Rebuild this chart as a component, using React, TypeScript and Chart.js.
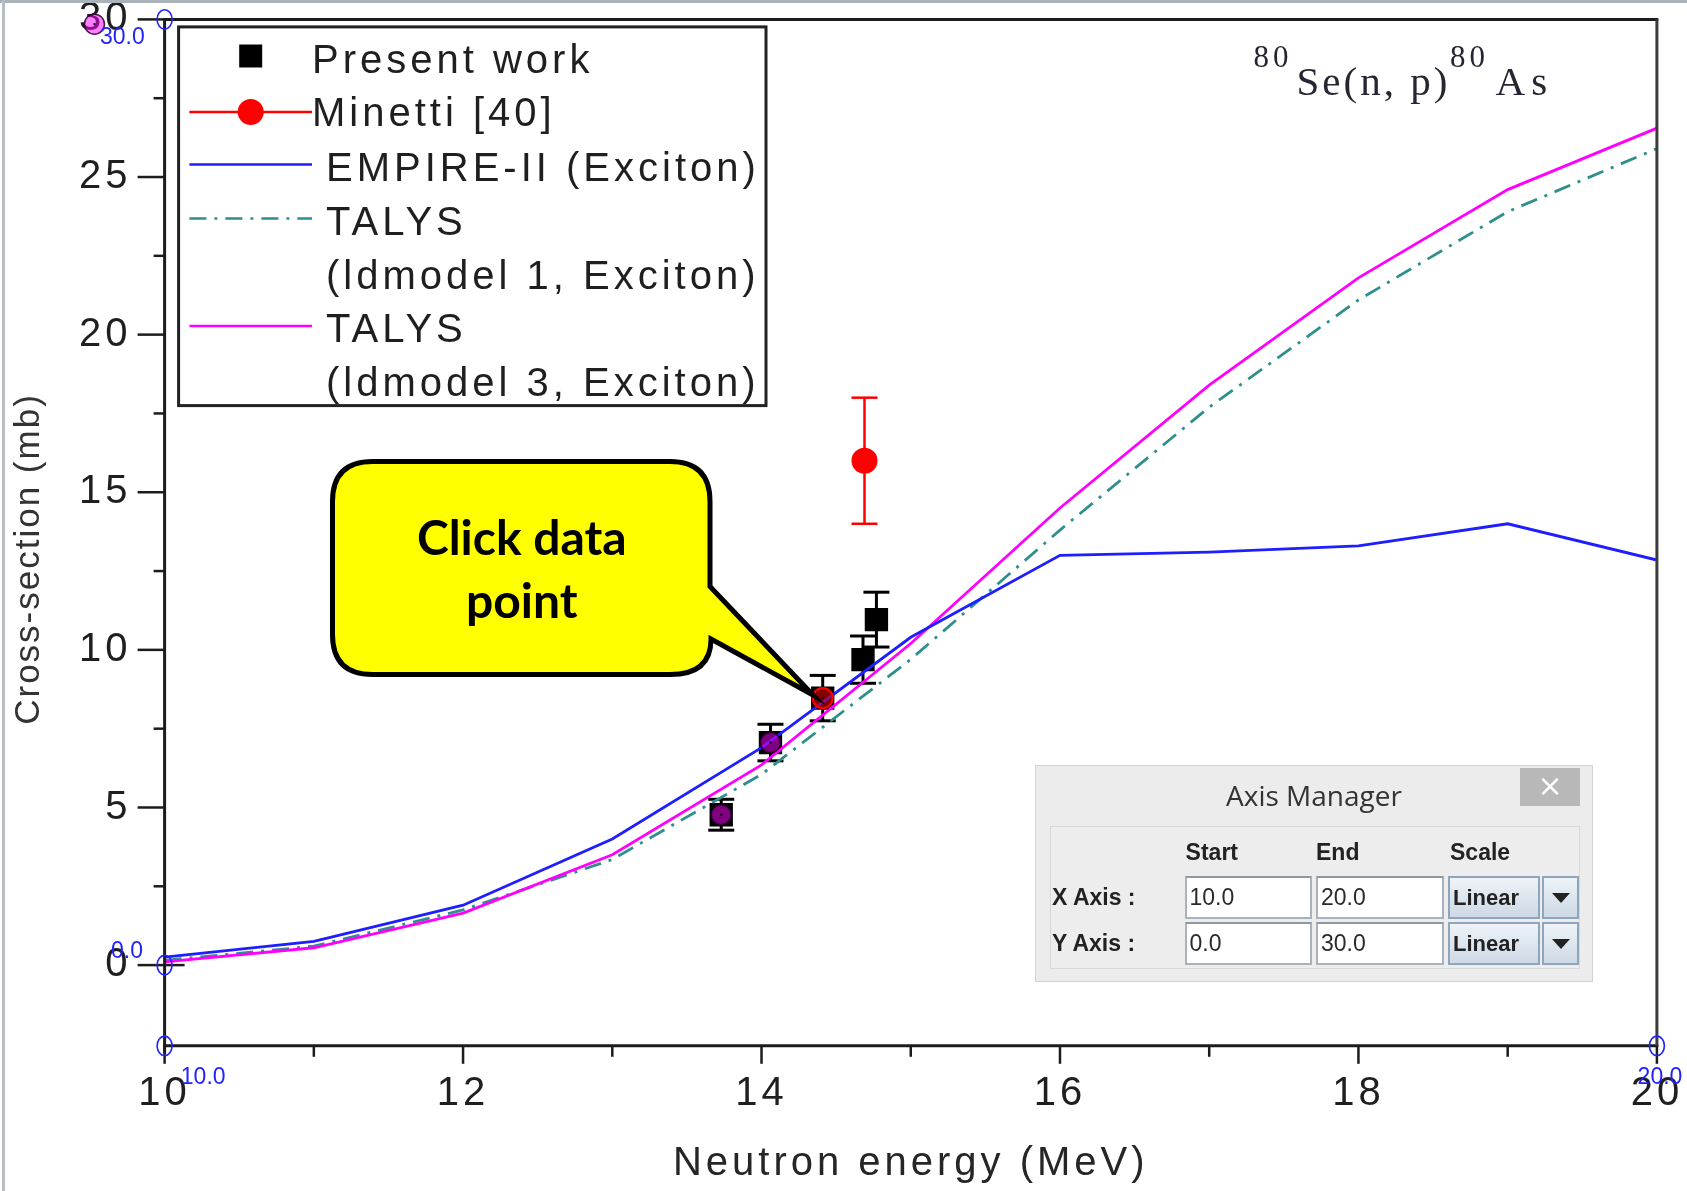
import React, { useEffect, useRef } from 'react';
import { Chart, registerables } from 'chart.js';

Chart.register(...registerables);

const W = 1687;
const H = 1191;

// ---------------- data ----------------
const modelEnergy = [10, 11, 12, 13, 14, 15, 16, 17, 18, 19, 20];
const empireExciton = [0.25, 0.75, 1.9, 4.0, 6.9, 10.4, 13.0, 13.1, 13.3, 14.0, 12.85];
const talysLd1Exciton = [0.15, 0.6, 1.75, 3.35, 6.05, 9.7, 13.8, 17.7, 21.1, 23.9, 25.9];
const talysLd3Exciton = [0.1, 0.55, 1.65, 3.5, 6.35, 10.2, 14.5, 18.4, 21.8, 24.6, 26.55];

const presentEnergy = [13.73, 14.06, 14.41, 14.68, 14.77];
const presentXs = [4.77, 7.06, 8.47, 9.69, 10.96];
const presentErr = [0.49, 0.58, 0.72, 0.75, 0.87];

const minettiEnergy = [14.69];
const minettiXs = [16.0];
const minettiErr = [2.0];

// points clicked in the digitizer (last one is a stray click near the axis label)
const clickedEnergy = [13.73, 14.06, 14.41, 9.53];
const clickedXs = [4.77, 7.06, 8.47, 29.85];
const clickedSelected = [false, false, true, false];

const X_MIN = 10;
const X_MAX = 20;
const Y_MIN = -2.56;
const Y_MAX = 30;
const xMajorTicks = [10, 12, 14, 16, 18, 20];
const xMinorTicks = [11, 13, 15, 17, 19];
const yMajorTicks = [0, 5, 10, 15, 20, 25, 30];
const yMinorTicks = [2.5, 7.5, 12.5, 17.5, 22.5, 27.5];

const calibEnergy = [10, 10, 10, 20];
const calibXs = [30, 0, Y_MIN, Y_MIN];
const calibLabels = ['30.0', '0.0', '10.0', '20.0'];

const xTitle = 'Neutron energy (MeV)';
const yTitle = 'Cross-section (mb)';
const legendTexts = [
  ['Present work'],
  ['Minetti [40]'],
  ['EMPIRE-II (Exciton)'],
  ['TALYS', '(ldmodel 1, Exciton)'],
  ['TALYS', '(ldmodel 3, Exciton)'],
];
const reactionParts = ['80', 'Se(n, p)', '80', 'As'];

const axisHeaders = ['Start', 'End', 'Scale'];
const axisRows = [
  { label: 'X Axis :', start: '10.0', end: '20.0', scale: 'Linear' },
  { label: 'Y Axis :', start: '0.0', end: '30.0', scale: 'Linear' },
];
const calloutLines = ['Click data', 'point'];

// ---------------- styling / layout ----------------
const AREA = { left: 164.6, top: 19.4, right: 1656.9, bottom: 1045.8 };
const SANS = '"Liberation Sans", Arial, Helvetica, sans-serif';
const SERIF = '"Liberation Serif", "Times New Roman", serif';
const C_BLUE = '#1e1eff';
const C_MAG = '#ff00ff';
const C_TEAL = '#2f8f8c';
const C_RED = '#ff0000';
const TEAL_DASH = [17, 8, 3, 8];
const CLICK_FILL = 'rgba(255,0,255,0.5)';
const CLICK_FILL_SEL = 'rgba(255,0,0,0.5)';
const CLICK_EDGE = 'rgba(40,0,40,0.85)';
const TEXT_DARK = '#1f1f1f';

const calibLabelOffset = [
  [-64.6, 24.6],
  [-53.6, -7.5],
  [16.2, 37.7],
  [-19.3, 37.7],
];

function line(ctx: any, x1: number, y1: number, x2: number, y2: number) {
  ctx.beginPath();
  ctx.moveTo(x1, y1);
  ctx.lineTo(x2, y2);
  ctx.stroke();
}

const overlayPlugin = {
  id: 'overlay',
  beforeDraw(chart: any) {
    chart.ctx.letterSpacing = '4px';
  },
  beforeDatasetsDraw(chart: any) {
    const ctx = chart.ctx;
    const xs = chart.scales.x;
    const ys = chart.scales.y;
    ctx.save();
    ctx.lineCap = 'butt';
    ctx.strokeStyle = '#000';
    ctx.lineWidth = 3;
    presentEnergy.forEach((e, i) => {
      const px = xs.getPixelForValue(e);
      const t = ys.getPixelForValue(presentXs[i] + presentErr[i]);
      const b = ys.getPixelForValue(presentXs[i] - presentErr[i]);
      line(ctx, px, t, px, b);
      line(ctx, px - 13, t, px + 13, t);
      line(ctx, px - 13, b, px + 13, b);
    });
    ctx.strokeStyle = C_RED;
    ctx.lineWidth = 2.5;
    minettiEnergy.forEach((e, i) => {
      const px = xs.getPixelForValue(e);
      const t = ys.getPixelForValue(minettiXs[i] + minettiErr[i]);
      const b = ys.getPixelForValue(minettiXs[i] - minettiErr[i]);
      line(ctx, px, t, px, b);
      line(ctx, px - 13, t, px + 13, t);
      line(ctx, px - 13, b, px + 13, b);
    });
    ctx.restore();
  },
  afterDatasetsDraw(chart: any) {
    const ctx = chart.ctx;
    const xs = chart.scales.x;
    const ys = chart.scales.y;
    const a = chart.chartArea;
    ctx.save();
    clickedEnergy.forEach((e, i) => {
      const px = xs.getPixelForValue(e);
      const py = ys.getPixelForValue(clickedXs[i]);
      const outside = px < a.left || px > a.right || py < a.top || py > a.bottom;
      if (outside) {
        // the library's point element is culled outside the plot area, so mark it here
        ctx.beginPath();
        ctx.arc(px, py, 10, 0, Math.PI * 2);
        ctx.fillStyle = clickedSelected[i] ? CLICK_FILL_SEL : CLICK_FILL;
        ctx.fill();
        ctx.lineWidth = 1.5;
        ctx.strokeStyle = clickedSelected[i] ? C_RED : CLICK_EDGE;
        ctx.stroke();
      }
      ctx.fillStyle = '#1a001a';
      ctx.fillRect(px - 1, py - 1, 2, 2);
    });
    ctx.restore();
  },
  afterDraw(chart: any) {
    const ctx = chart.ctx;
    const xs = chart.scales.x;
    const ys = chart.scales.y;
    const { left: L, right: R, top: T, bottom: B } = chart.chartArea;
    ctx.save();
    ctx.letterSpacing = '0px';
    ctx.lineCap = 'butt';

    // frame
    ctx.strokeStyle = '#1c1c1c';
    ctx.lineWidth = 3;
    line(ctx, L, T - 1.5, L, B + 8);
    line(ctx, L - 1.5, B, R + 1.5, B);
    line(ctx, L - 1.5, T, R + 1.5, T);
    ctx.strokeStyle = '#3c3c3c';
    line(ctx, R, T, R, B);

    // ticks
    ctx.strokeStyle = '#1c1c1c';
    ctx.lineWidth = 2.5;
    yMajorTicks.forEach((v) => {
      const y = ys.getPixelForValue(v);
      line(ctx, L - 27, y, L, y);
    });
    yMinorTicks.forEach((v) => {
      const y = ys.getPixelForValue(v);
      line(ctx, L - 11, y, L, y);
    });
    const y0 = ys.getPixelForValue(0);
    line(ctx, L, y0, L + 20, y0);
    xMajorTicks.forEach((v) => {
      const x = xs.getPixelForValue(v);
      line(ctx, x, B, x, B + 18);
    });
    xMinorTicks.forEach((v) => {
      const x = xs.getPixelForValue(v);
      line(ctx, x, B, x, B + 11);
    });

    // y title
    ctx.save();
    ctx.translate(29, 559);
    ctx.rotate(-Math.PI / 2);
    ctx.font = `35px ${SANS}`;
    ctx.letterSpacing = '2px';
    ctx.fillStyle = '#333';
    ctx.textAlign = 'center';
    ctx.textBaseline = 'middle';
    ctx.fillText(yTitle, 0, 0);
    ctx.restore();

    // legend
    const ds = chart.data.datasets;
    ctx.strokeStyle = '#222';
    ctx.lineWidth = 3;
    ctx.strokeRect(178.6, 26.9, 587.4, 378.7);
    const symL = 189.4;
    const symR = 312;
    const symC = 250.7;
    ctx.fillStyle = ds[5].pointBackgroundColor;
    ctx.fillRect(symC - 11.5, 56 - 11.5, 23, 23);
    ctx.strokeStyle = ds[1].pointBackgroundColor;
    ctx.lineWidth = 2.5;
    line(ctx, symL, 112, symR, 112);
    ctx.fillStyle = ds[1].pointBackgroundColor;
    ctx.beginPath();
    ctx.arc(symC, 112, 13, 0, Math.PI * 2);
    ctx.fill();
    ctx.strokeStyle = ds[2].borderColor;
    line(ctx, symL, 164.6, symR, 164.6);
    ctx.strokeStyle = ds[4].borderColor;
    ctx.setLineDash(TEAL_DASH);
    line(ctx, symL, 218.4, symR, 218.4);
    ctx.setLineDash([]);
    ctx.strokeStyle = ds[3].borderColor;
    line(ctx, symL, 326, symR, 326);

    ctx.font = `40px ${SANS}`;
    ctx.letterSpacing = '4px';
    ctx.fillStyle = TEXT_DARK;
    ctx.textAlign = 'left';
    ctx.textBaseline = 'middle';
    const textPos = [
      [312, [62]],
      [312, [115]],
      [326, [170]],
      [326, [223.5, 277.5]],
      [326, [331, 385]],
    ] as any;
    legendTexts.forEach((lines, i) => {
      lines.forEach((t, j) => ctx.fillText(t, textPos[i][0], textPos[i][1][j]));
    });

    // reaction label
    ctx.fillStyle = '#262633';
    ctx.textBaseline = 'alphabetic';
    ctx.font = `31px ${SERIF}`;
    ctx.letterSpacing = '4px';
    ctx.fillText(reactionParts[0], 1253.5, 67);
    ctx.font = `41px ${SERIF}`;
    ctx.letterSpacing = '3px';
    ctx.fillText(reactionParts[1], 1296.5, 94.7);
    ctx.font = `31px ${SERIF}`;
    ctx.letterSpacing = '4px';
    ctx.fillText(reactionParts[2], 1450, 67);
    ctx.font = `41px ${SERIF}`;
    ctx.letterSpacing = '6px';
    ctx.fillText(reactionParts[3], 1495.6, 94.7);

    // calibration markers
    ctx.letterSpacing = '0px';
    ctx.strokeStyle = '#2222ff';
    ctx.fillStyle = '#2222ff';
    ctx.lineWidth = 1.6;
    ctx.font = `23px ${SANS}`;
    ctx.textAlign = 'left';
    calibEnergy.forEach((e, i) => {
      const px = xs.getPixelForValue(e);
      const py = ys.getPixelForValue(calibXs[i]);
      ctx.beginPath();
      ctx.ellipse(px, py, 7.5, 9.7, 0, 0, Math.PI * 2);
      ctx.stroke();
      ctx.fillText(calibLabels[i], px + calibLabelOffset[i][0], py + calibLabelOffset[i][1]);
    });
    ctx.restore();
  },
};

const datasets: any[] = [
  {
    label: 'clicked',
    data: clickedEnergy.map((x, i) => ({ x, y: clickedXs[i] })),
    showLine: false,
    clip: false,
    pointRadius: 10,
    pointBackgroundColor: clickedSelected.map((s) => (s ? CLICK_FILL_SEL : CLICK_FILL)),
    pointBorderColor: clickedSelected.map((s) => (s ? C_RED : CLICK_EDGE)),
    pointBorderWidth: clickedSelected.map((s) => (s ? 2.2 : 1.5)),
  },
  {
    label: 'Minetti [40]',
    data: minettiEnergy.map((x, i) => ({ x, y: minettiXs[i] })),
    showLine: false,
    pointRadius: 13,
    pointBackgroundColor: C_RED,
    pointBorderColor: C_RED,
    pointBorderWidth: 0,
  },
  {
    label: 'EMPIRE-II (Exciton)',
    data: modelEnergy.map((x, i) => ({ x, y: empireExciton[i] })),
    showLine: true,
    borderColor: C_BLUE,
    borderWidth: 2.8,
    pointRadius: 0,
    tension: 0,
  },
  {
    label: 'TALYS (ldmodel 3, Exciton)',
    data: modelEnergy.map((x, i) => ({ x, y: talysLd3Exciton[i] })),
    showLine: true,
    borderColor: C_MAG,
    borderWidth: 2.8,
    pointRadius: 0,
    tension: 0,
  },
  {
    label: 'TALYS (ldmodel 1, Exciton)',
    data: modelEnergy.map((x, i) => ({ x, y: talysLd1Exciton[i] })),
    showLine: true,
    borderColor: C_TEAL,
    borderDash: TEAL_DASH,
    borderWidth: 2.8,
    pointRadius: 0,
    tension: 0,
  },
  {
    label: 'Present work',
    data: presentEnergy.map((x, i) => ({ x, y: presentXs[i] })),
    showLine: false,
    pointStyle: 'rect',
    pointRadius: 16.5,
    pointBackgroundColor: '#000',
    pointBorderColor: '#000',
    pointBorderWidth: 0,
  },
];

export default function App() {
  const ref = useRef<HTMLCanvasElement>(null);

  useEffect(() => {
    if (!ref.current) return;
    Chart.defaults.font.family = SANS;
    const chart = new Chart(ref.current, {
      type: 'scatter',
      data: { datasets },
      options: {
        responsive: false,
        animation: false,
        devicePixelRatio: 1,
        events: [],
        layout: { padding: { left: 0, top: AREA.top, right: W - AREA.right, bottom: 0 } },
        plugins: { legend: { display: false }, tooltip: { enabled: false } },
        scales: {
          x: {
            type: 'linear',
            min: X_MIN,
            max: X_MAX,
            afterBuildTicks: (s: any) => {
              s.ticks = xMajorTicks.map((v) => ({ value: v }));
            },
            afterFit: (s: any) => {
              s.height = H - AREA.bottom;
              s.paddingLeft = 0;
              s.paddingRight = 0;
            },
            grid: { display: false, drawTicks: false },
            border: { display: false },
            ticks: {
              padding: 24,
              color: TEXT_DARK,
              font: { size: 40, family: SANS },
              maxRotation: 0,
              autoSkip: false,
              callback: (v: any) => String(v),
            },
            title: {
              display: true,
              text: xTitle,
              color: '#262626',
              font: { size: 40, family: SANS },
              padding: { top: 0, bottom: 3 },
            },
          },
          y: {
            type: 'linear',
            min: Y_MIN,
            max: Y_MAX,
            afterBuildTicks: (s: any) => {
              s.ticks = yMajorTicks.map((v) => ({ value: v }));
            },
            afterFit: (s: any) => {
              s.width = AREA.left;
              s.paddingTop = 0;
              s.paddingBottom = 0;
            },
            grid: { display: false, drawTicks: false },
            border: { display: false },
            ticks: {
              padding: 33,
              color: TEXT_DARK,
              font: { size: 40, family: SANS },
              autoSkip: false,
              callback: (v: any) => String(v),
            },
            title: { display: false },
          },
        },
      } as any,
      plugins: [overlayPlugin as any],
    });
    return () => chart.destroy();
  }, []);

  const cL = 332.5, cT = 461.6, cR = 710, cB = 674.6, cr = 40;
  const calloutPath =
    `M ${cL + cr} ${cT} H ${cR - cr} Q ${cR} ${cT} ${cR} ${cT + cr} V 586.5 ` +
    `L 813 695 L 711 639 C 711 662 698 ${cB} ${cR - cr} ${cB} ` +
    `H ${cL + cr} Q ${cL} ${cB} ${cL} ${cB - cr} V ${cT + cr} Q ${cL} ${cT} ${cL + cr} ${cT} Z`;

  const dlgFont = SANS;
  const fieldStyle = (left: number, top: number, width: number): React.CSSProperties => ({
    position: 'absolute',
    left,
    top,
    width,
    height: 43,
    boxSizing: 'border-box',
    background: '#fff',
    border: '2px solid #a9b3bd',
    borderTopColor: '#8d98a3',
    fontSize: 23,
    lineHeight: '39px',
    paddingLeft: 3,
    color: '#2a2a2a',
    fontFamily: dlgFont,
  });
  const comboStyle = (left: number, top: number, width: number): React.CSSProperties => ({
    position: 'absolute',
    left,
    top,
    width,
    height: 43,
    boxSizing: 'border-box',
    background: 'linear-gradient(#eef3f8, #cdd9e5)',
    border: '2px solid #8fa5bb',
    fontSize: 22,
    fontWeight: 'bold',
    lineHeight: '39px',
    paddingLeft: 3,
    color: '#222',
    fontFamily: dlgFont,
  });

  return (
    <div style={{ position: 'absolute', left: 0, top: 0, width: W, height: H, background: '#fff', overflow: 'hidden' }}>
      <canvas ref={ref} width={W} height={H} style={{ position: 'absolute', left: 0, top: 0, width: W, height: H }} />
      {/* window frame */}
      <div style={{ position: 'absolute', left: 0, top: 0, width: W, height: 3, background: '#aab2ba' }} />
      <div style={{ position: 'absolute', left: 2, top: 0, width: 3, height: H, background: '#b6bec6' }} />

      {/* callout */}
      <svg width={W} height={H} style={{ position: 'absolute', left: 0, top: 0 }}>
        <path d={calloutPath} fill="#ffff00" stroke="#000" strokeWidth={5} strokeLinejoin="miter" strokeMiterlimit={10} />
        <text x={521.8} y={555} textAnchor="middle" fontFamily="Lato, 'Open Sans', sans-serif" fontWeight={700} fontSize={48} fill="#000">
          {calloutLines[0]}
        </text>
        <text x={521.8} y={618} textAnchor="middle" fontFamily="Lato, 'Open Sans', sans-serif" fontWeight={700} fontSize={48} fill="#000">
          {calloutLines[1]}
        </text>
      </svg>

      {/* Axis Manager dialog */}
      <div
        style={{
          position: 'absolute',
          left: 1035,
          top: 765,
          width: 558,
          height: 217,
          boxSizing: 'border-box',
          background: '#ececec',
          border: '1px solid #d3d3d3',
          fontFamily: dlgFont,
        }}
      >
        <div
          style={{
            position: 'absolute',
            left: 0,
            top: 10,
            width: '100%',
            textAlign: 'center',
            fontFamily: '"Open Sans", "Noto Sans", sans-serif',
            fontSize: 28,
            lineHeight: '38px',
            color: '#333',
          }}
        >
          Axis Manager
        </div>
        <div
          style={{
            position: 'absolute',
            left: 484,
            top: 2,
            width: 60,
            height: 38,
            background: '#b8b8b8',
            color: '#fff',
            textAlign: 'center',
            fontSize: 30,
            lineHeight: '36px',
            fontFamily: '"DejaVu Sans", sans-serif',
          }}
        >
          ×
        </div>
        <div
          style={{
            position: 'absolute',
            left: 14,
            top: 60,
            width: 530,
            height: 143,
            boxSizing: 'border-box',
            border: '1px solid #d8d8d8',
            background: '#ededed',
          }}
        />
        {axisHeaders.map((h, i) => (
          <div
            key={h}
            style={{
              position: 'absolute',
              left: [149.6, 280, 414][i],
              top: 72,
              fontSize: 23,
              fontWeight: 'bold',
              lineHeight: '28px',
              color: '#222',
            }}
          >
            {h}
          </div>
        ))}
        {axisRows.map((r, i) => {
          const top = i === 0 ? 109.7 : 156;
          return (
            <React.Fragment key={r.label}>
              <div
                style={{
                  position: 'absolute',
                  left: 16,
                  top: top + 7,
                  fontSize: 23,
                  fontWeight: 'bold',
                  lineHeight: '28px',
                  color: '#222',
                }}
              >
                {r.label}
              </div>
              <div style={fieldStyle(148.5, top, 127)}>{r.start}</div>
              <div style={fieldStyle(280, top, 128)}>{r.end}</div>
              <div style={comboStyle(412, top, 92)}>{r.scale}</div>
              <div style={{ ...comboStyle(505.7, top, 37), paddingLeft: 0 }}>
                <div
                  style={{
                    position: 'absolute',
                    left: 8,
                    top: 15,
                    width: 0,
                    height: 0,
                    borderLeft: '9px solid transparent',
                    borderRight: '9px solid transparent',
                    borderTop: '10px solid #222',
                  }}
                />
              </div>
            </React.Fragment>
          );
        })}
      </div>
    </div>
  );
}
